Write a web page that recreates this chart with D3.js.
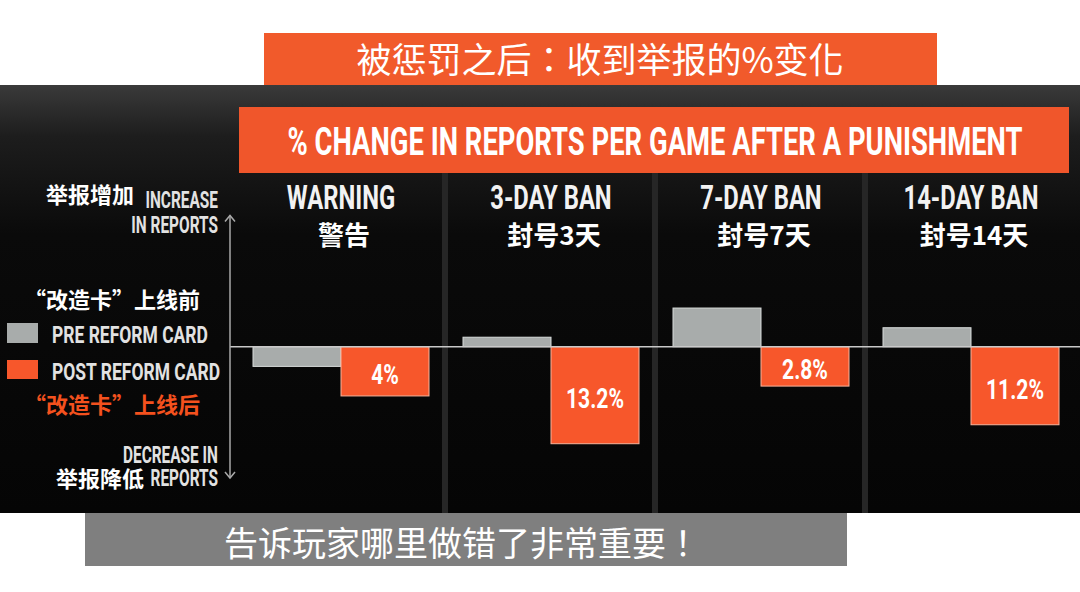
<!DOCTYPE html>
<html>
<head>
<meta charset="utf-8">
<script src="https://cdn.jsdelivr.net/npm/d3@7"></script>
<style>
    body { margin: 0; background: #fff; }
    svg { display: block; }
</style>
</head>
<body>
<svg id="svgId"></svg>
<script>
const categories = ['WARNING', '3-DAY BAN', '7-DAY BAN', '14-DAY BAN'];
const categoriesZh = ['警告', '封号3天', '封号7天', '封号14天'];
// bar heights (the original bars are not drawn to scale of the labels)
const preReform = [-2.7, 1.3, 5.3, 2.6];
const postReform = [-6.75, -13.3, -5.4, -10.7];
const postLabels = ['4%', '13.2%', '2.8%', '11.2%'];
const seriesKeys = ['pre', 'post'];

const titleZh = '被惩罚之后：收到举报的%变化';
const bannerText = '% CHANGE IN REPORTS PER GAME AFTER A PUNISHMENT';
const footerZh = '告诉玩家哪里做错了非常重要！';

const ORANGE = '#f7572b';
const GREY = '#a8acab';
const COND = 'Roboto, "DejaVu Sans", sans-serif';
const CJK = '"Noto Sans CJK SC", sans-serif';
const CJK_CENTERED = '"Noto Sans CJK TC", "Noto Sans CJK SC", sans-serif';

// squeeze text horizontally so it looks like the condensed poster typeface
function condense(sel, factor) {
    sel.each(function() {
        const len = this.getComputedTextLength();
        d3.select(this)
            .attr('textLength', len * factor)
            .attr('lengthAdjust', 'spacingAndGlyphs');
    });
    return sel;
}

function drawChart() {
    const width = 1080;
    const height = 592;

    const svg = d3.select('#svgId').attr('width', width).attr('height', height);
    svg.selectAll('*').remove();

    const defs = svg.append('defs');
    const grad = defs.append('linearGradient')
        .attr('id', 'bgGrad')
        .attr('x1', 0).attr('y1', 0).attr('x2', 0).attr('y2', 1);
    grad.append('stop').attr('offset', '0%').attr('stop-color', '#3a3a3a');
    grad.append('stop').attr('offset', '12%').attr('stop-color', '#1d1d1d');
    grad.append('stop').attr('offset', '35%').attr('stop-color', '#0a0a0a');
    grad.append('stop').attr('offset', '100%').attr('stop-color', '#050505');

    // dark picture area
    svg.append('rect')
        .attr('x', 0).attr('y', 85)
        .attr('width', width).attr('height', 428)
        .attr('fill', 'url(#bgGrad)');

    const x = d3.scaleBand().domain(categories).range([234, 1074]).paddingInner(0);
    const xSub = d3.scaleBand().domain(seriesKeys).range([19, 195]).paddingInner(0);
    const y = d3.scaleLinear().domain([-18, 18]).range([478, 215.4]);

    // column dividers
    svg.selectAll('.divider')
        .data(categories.slice(1))
        .enter()
        .append('rect')
        .attr('class', 'divider')
        .attr('x', d => x(d) - 2)
        .attr('y', 172)
        .attr('width', 6)
        .attr('height', 341)
        .attr('fill', '#262626');

    // orange banner
    svg.append('rect')
        .attr('x', 239).attr('y', 107)
        .attr('width', 830).attr('height', 66)
        .attr('fill', '#f0562b');
    svg.append('text')
        .attr('x', 655).attr('y', 155)
        .attr('text-anchor', 'middle')
        .attr('font-family', COND)
        .attr('font-weight', 'bold')
        .attr('font-size', '38px')
        .attr('fill', '#fff')
        .attr('textLength', 735)
        .attr('lengthAdjust', 'spacingAndGlyphs')
        .text(bannerText);

    // column headers
    svg.selectAll('.head-en')
        .data(categories)
        .enter()
        .append('text')
        .attr('class', 'head-en')
        .attr('x', d => x(d) + x.bandwidth() / 2 + 2)
        .attr('y', 209)
        .attr('text-anchor', 'middle')
        .attr('font-family', COND)
        .attr('font-weight', 'bold')
        .attr('font-size', '34px')
        .attr('fill', '#f2f2f2')
        .text(d => d)
        .call(condense, 0.7);

    svg.selectAll('.head-zh')
        .data(categoriesZh)
        .enter()
        .append('text')
        .attr('class', 'head-zh')
        .attr('x', (d, i) => x(categories[i]) + x.bandwidth() / 2 + 5)
        .attr('y', 245)
        .attr('text-anchor', 'middle')
        .attr('font-family', CJK)
        .attr('font-weight', 'bold')
        .attr('font-size', '26px')
        .attr('fill', '#fff')
        .text(d => d);

    // bars
    const rows = categories.map((c, i) => ({ cat: c, pre: preReform[i], post: postReform[i], label: postLabels[i] }));

    seriesKeys.forEach(key => {
        svg.selectAll(`.bar_${key}`)
            .data(rows)
            .enter()
            .append('rect')
            .attr('class', `bar_${key}`)
            .attr('x', d => x(d.cat) + xSub(key))
            .attr('y', d => Math.min(y(0), y(d[key])))
            .attr('width', xSub.bandwidth())
            .attr('height', d => Math.abs(y(d[key]) - y(0)))
            .attr('fill', key === 'pre' ? GREY : ORANGE)
            .attr('stroke', key === 'pre' ? '#d8dcdb' : '#f9b49c')
            .attr('stroke-width', 1);
    });

    svg.selectAll('.bar-label')
        .data(rows)
        .enter()
        .append('text')
        .attr('class', 'bar-label')
        .attr('x', d => x(d.cat) + xSub('post') + xSub.bandwidth() / 2)
        .attr('y', d => (y(0) + y(d.post)) / 2 + 13)
        .attr('text-anchor', 'middle')
        .attr('font-family', COND)
        .attr('font-weight', 'bold')
        .attr('font-size', '27px')
        .attr('fill', '#fff')
        .text(d => d.label)
        .call(condense, 0.78);

    // zero line
    svg.append('line')
        .attr('x1', 230).attr('x2', width)
        .attr('y1', y(0)).attr('y2', y(0))
        .attr('stroke', '#c9c9c9')
        .attr('stroke-width', 1.5);

    // vertical double arrow
    const axisX = 230;
    svg.append('line')
        .attr('x1', axisX).attr('x2', axisX)
        .attr('y1', y(18)).attr('y2', y(-18))
        .attr('stroke', '#a9a9a9')
        .attr('stroke-width', 1.5);
    svg.append('path')
        .attr('d', `M${axisX - 5},${y(18) + 6}L${axisX},${y(18)}L${axisX + 5},${y(18) + 6}`)
        .attr('fill', 'none').attr('stroke', '#a9a9a9').attr('stroke-width', 1.5);
    svg.append('path')
        .attr('d', `M${axisX - 5},${y(-18) - 6}L${axisX},${y(-18)}L${axisX + 5},${y(-18) - 6}`)
        .attr('fill', 'none').attr('stroke', '#a9a9a9').attr('stroke-width', 1.5);

    addSideLabels(svg);

    // top title box
    svg.append('rect')
        .attr('x', 264).attr('y', 33)
        .attr('width', 673).attr('height', 52)
        .attr('fill', '#f15a2b');
    svg.append('text')
        .attr('x', 600).attr('y', 73)
        .attr('text-anchor', 'middle')
        .attr('font-family', CJK_CENTERED)
        .attr('font-size', '35px')
        .attr('fill', '#fff')
        .text(titleZh);

    // bottom note box
    svg.append('rect')
        .attr('x', 85).attr('y', 513)
        .attr('width', 762).attr('height', 53)
        .attr('fill', '#7f7f7f');
    svg.append('text')
        .attr('x', 462).attr('y', 556)
        .attr('text-anchor', 'middle')
        .attr('font-family', CJK_CENTERED)
        .attr('font-size', '34px')
        .attr('fill', '#fff')
        .text(footerZh);
}

function addSideLabels(svg) {
    const enText = (x, y, t, anchor, factor) => svg.append('text')
        .attr('x', x).attr('y', y)
        .attr('text-anchor', anchor || 'end')
        .attr('font-family', COND)
        .attr('font-weight', 'bold')
        .attr('font-size', '23px')
        .attr('fill', '#e2e2e2')
        .text(t)
        .call(condense, factor || 0.67);

    const zhText = (x, y, t, color, anchor) => svg.append('text')
        .attr('x', x).attr('y', y)
        .attr('text-anchor', anchor || 'start')
        .attr('font-family', CJK)
        .attr('font-weight', 'bold')
        .attr('font-size', '22px')
        .attr('fill', color)
        .text(t);

    zhText(134, 203, '举报增加', '#fff', 'end');
    enText(218, 208, 'INCREASE');
    enText(218, 233, 'IN REPORTS');

    zhText(24, 308, '“改造卡”上线前', '#fff');

    // legend
    svg.append('rect')
        .attr('x', 7).attr('y', 323).attr('width', 31).attr('height', 20)
        .attr('fill', GREY);
    enText(52, 343, 'PRE REFORM CARD', 'start', 0.76);
    svg.append('rect')
        .attr('x', 7).attr('y', 360).attr('width', 31).attr('height', 19)
        .attr('fill', ORANGE);
    enText(52, 380, 'POST REFORM CARD', 'start', 0.76);

    zhText(24, 413, '“改造卡”上线后', '#f4511e');

    enText(218, 463, 'DECREASE IN');
    enText(218, 486, 'REPORTS');
    zhText(144, 487, '举报降低', '#fff', 'end');
}

drawChart();
</script>
</body>
</html>
